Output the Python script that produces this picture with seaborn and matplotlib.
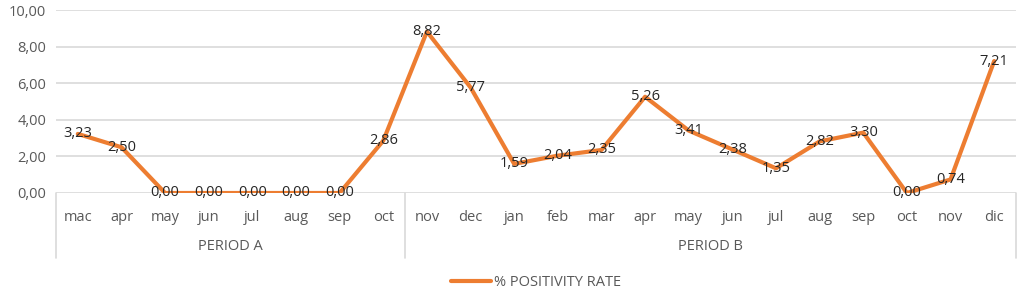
import matplotlib
matplotlib.use("Agg")
import matplotlib.pyplot as plt
import matplotlib.transforms as mtransforms
import seaborn as sns
import pandas as pd
import numpy as np

months = ["mac", "apr", "may", "jun", "jul", "aug", "sep", "oct",
          "nov", "dec", "jan", "feb", "mar", "apr", "may", "jun",
          "jul", "aug", "sep", "oct", "nov", "dic"]
values = [3.23, 2.50, 0.00, 0.00, 0.00, 0.00, 0.00, 2.86,
          8.82, 5.77, 1.59, 2.04, 2.35, 5.26, 3.41, 2.38,
          1.35, 2.82, 3.30, 0.00, 0.74, 7.21]
periods = ["PERIOD A", "PERIOD B"]
period_sizes = [8, 14]
series_name = "% POSITIVITY RATE"
yticks = [0, 2, 4, 6, 8, 10]

sns.set_theme(style="white")
plt.rcParams["font.family"] = ["Open Sans", "DejaVu Sans"]

orange = "#ED7D31"
gray_text = "#595959"
grid_c = "#D9D9D9"
fs = 10.5

df = pd.DataFrame({"pos": np.arange(len(months)), "month": months, "value": values})

fig = plt.figure(figsize=(10.21, 2.93), dpi=100)
ax = fig.add_axes([56 / 1021, 1 - 193 / 293, (1016 - 56) / 1021, (193 - 10) / 293])

sns.lineplot(data=df, x="pos", y="value", ax=ax, color=orange, linewidth=3,
             label=series_name, sort=False, zorder=3)

for p, v in zip(df["pos"], df["value"]):
    ax.text(p, v, f"{v:.2f}".replace(".", ","), ha="center", va="center",
            fontsize=fs, color="#262626", zorder=4)

n = len(months)
ax.set_xlim(-0.5, n - 0.5)
ax.set_ylim(0, 10)
ax.set_yticks(yticks)
ax.set_yticklabels([f"{t:.2f}".replace(".", ",") for t in yticks], fontsize=fs, color=gray_text)
ax.set_xticks(df["pos"])
ax.set_xticklabels(months, fontsize=fs, color=gray_text)
ax.tick_params(axis="y", length=0, pad=7)
ax.tick_params(axis="x", length=0, pad=12)
ax.set_xlabel("")
ax.set_ylabel("")
for s in ax.spines.values():
    s.set_visible(False)
for t in yticks[1:]:
    ax.axhline(t, color=grid_c, linewidth=1.2, zorder=1)
ax.axhline(0, color=grid_c, linewidth=1.2, zorder=1)

# category grouping lines
trans = mtransforms.blended_transform_factory(ax.transData, ax.transAxes)
bottom_frac = -(258 - 193) / 183
bounds = [-0.5]
for sz in period_sizes:
    bounds.append(bounds[-1] + sz)
for b in bounds:
    ax.plot([b, b], [0, bottom_frac], transform=trans, color=grid_c,
            linewidth=1.2, clip_on=False)
for i, name in enumerate(periods):
    cx = (bounds[i] + bounds[i + 1]) / 2
    ax.text(cx, -(247 - 193) / 183, name, transform=trans, ha="center", va="center",
            fontsize=fs, color=gray_text)

leg = ax.legend(loc="center", bbox_to_anchor=(0.5, -(283 - 193) / 183), frameon=False,
                fontsize=fs, handlelength=2.8, handletextpad=0.2)
for t in leg.get_texts():
    t.set_color(gray_text)

fig.savefig("out.png", dpi=100)
